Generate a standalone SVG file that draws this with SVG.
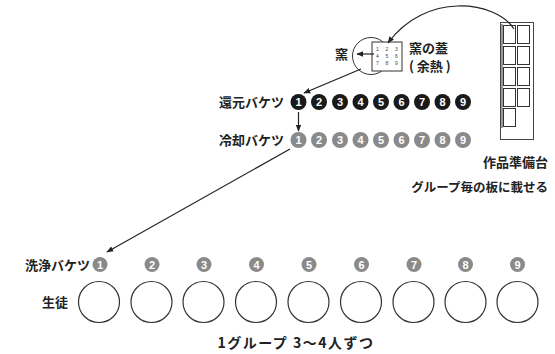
<svg xmlns="http://www.w3.org/2000/svg" width="555" height="354" viewBox="0 0 555 354">
<defs>
<marker id="ah" viewBox="0 0 10 10" refX="9" refY="5" markerWidth="7" markerHeight="7" orient="auto" markerUnits="userSpaceOnUse">
<path d="M0,1 L10,5 L0,9 Z" fill="#222"/>
</marker>
<style>
.lbl{font-family:"Noto Sans CJK JP","Noto Sans",sans-serif;font-weight:bold;font-size:13px;fill:#222}
.num{font-family:"Liberation Sans",Arial,sans-serif;font-weight:bold;font-size:11px;fill:#fff;text-anchor:middle}
.tiny{font-family:"Liberation Sans",Arial,sans-serif;font-size:5px;fill:#444;text-anchor:middle}
.blk{fill:#1a1a1a}
.gry{fill:#8a8a8a}
.stu{fill:#fff;stroke:#333;stroke-width:1.2}
.con{fill:none;stroke:#222;stroke-width:1.2}
.sq{fill:#fff;stroke:#333;stroke-width:1}
</style>
</defs>
<rect width="555" height="354" fill="#fff"/>

<g id="kiln">
<circle cx="371" cy="56" r="18.5" fill="#fff" stroke="#333" stroke-width="1"/>
<text class="lbl" x="335" y="59">窯</text>
</g>
<g id="lid">
<rect x="372" y="42" width="30" height="29" fill="#fff" stroke="#333" stroke-width="1"/>
<text class="tiny" x="377.5" y="51">1</text><text class="tiny" x="387" y="51">2</text><text class="tiny" x="396.5" y="51">3</text>
<text class="tiny" x="377.5" y="58">4</text><text class="tiny" x="387" y="58">5</text><text class="tiny" x="396.5" y="58">6</text>
<text class="tiny" x="377.5" y="65">7</text><text class="tiny" x="387" y="65">8</text><text class="tiny" x="396.5" y="65">9</text>
<text class="lbl" x="409" y="53">窯の蓋</text>
<text class="lbl" x="409" y="71">( 余熱 )</text>
</g>
<g id="board">
<rect x="500.5" y="22.5" width="33" height="117" fill="#fff" stroke="#444" stroke-width="1"/>
<line x1="502" y1="24" x2="502" y2="128" stroke="#999" stroke-width="2"/>
<rect class="sq" x="503.5" y="25.5" width="12" height="18"/><rect class="sq" x="517.5" y="25.5" width="12" height="18"/>
<rect class="sq" x="503.5" y="46.5" width="12" height="18"/><rect class="sq" x="517.5" y="46.5" width="12" height="18"/>
<rect class="sq" x="503.5" y="67.5" width="12" height="18"/><rect class="sq" x="517.5" y="67.5" width="12" height="18"/>
<rect class="sq" x="503.5" y="88.5" width="12" height="18"/><rect class="sq" x="517.5" y="88.5" width="12" height="18"/>
<rect class="sq" x="503.5" y="108.5" width="12" height="18"/>
<text class="lbl" x="548" y="167" text-anchor="end">作品準備台</text>
<text class="lbl" x="548" y="192" text-anchor="end" style="font-size:12.5px">グループ毎の板に載せる</text>
</g>

<g id="reduction">
<text class="lbl" x="284" y="107" text-anchor="end">還元バケツ</text>
<g class="blk">
<circle cx="298.5" cy="102" r="8"/><circle cx="319" cy="102" r="8"/><circle cx="340" cy="102" r="8"/>
<circle cx="360.5" cy="102" r="8"/><circle cx="381" cy="102" r="8"/><circle cx="401.5" cy="102" r="8"/>
<circle cx="422" cy="102" r="8"/><circle cx="442.5" cy="102" r="8"/><circle cx="463" cy="102" r="8"/>
</g>
<text class="num" x="298.5" y="106">1</text><text class="num" x="319" y="106">2</text><text class="num" x="340" y="106">3</text>
<text class="num" x="360.5" y="106">4</text><text class="num" x="381" y="106">5</text><text class="num" x="401.5" y="106">6</text>
<text class="num" x="422" y="106">7</text><text class="num" x="442.5" y="106">8</text><text class="num" x="463" y="106">9</text>
</g>

<g id="cooling">
<text class="lbl" x="284" y="145" text-anchor="end">冷却バケツ</text>
<g class="gry">
<circle cx="298.5" cy="140" r="8"/><circle cx="319" cy="140" r="8"/><circle cx="340" cy="140" r="8"/>
<circle cx="360.5" cy="140" r="8"/><circle cx="381" cy="140" r="8"/><circle cx="401.5" cy="140" r="8"/>
<circle cx="422" cy="140" r="8"/><circle cx="442.5" cy="140" r="8"/><circle cx="463" cy="140" r="8"/>
</g>
<text class="num" x="298.5" y="144">1</text><text class="num" x="319" y="144">2</text><text class="num" x="340" y="144">3</text>
<text class="num" x="360.5" y="144">4</text><text class="num" x="381" y="144">5</text><text class="num" x="401.5" y="144">6</text>
<text class="num" x="422" y="144">7</text><text class="num" x="442.5" y="144">8</text><text class="num" x="463" y="144">9</text>
</g>

<g id="washing">
<text class="lbl" x="90" y="270" text-anchor="end">洗浄バケツ</text>
<g class="gry">
<circle cx="100" cy="264.5" r="7.5"/><circle cx="152" cy="264.5" r="7.5"/><circle cx="204" cy="264.5" r="7.5"/>
<circle cx="256.5" cy="264.5" r="7.5"/><circle cx="309" cy="264.5" r="7.5"/><circle cx="361.5" cy="264.5" r="7.5"/>
<circle cx="414" cy="264.5" r="7.5"/><circle cx="465.5" cy="264.5" r="7.5"/><circle cx="517.5" cy="264.5" r="7.5"/>
</g>
<text class="num" x="100" y="268.5">1</text><text class="num" x="152" y="268.5">2</text><text class="num" x="204" y="268.5">3</text>
<text class="num" x="256.5" y="268.5">4</text><text class="num" x="309" y="268.5">5</text><text class="num" x="361.5" y="268.5">6</text>
<text class="num" x="414" y="268.5">7</text><text class="num" x="465.5" y="268.5">8</text><text class="num" x="517.5" y="268.5">9</text>
</g>

<g id="students">
<text class="lbl" x="68" y="307" text-anchor="end">生徒</text>
<circle class="stu" cx="99" cy="302" r="20.5"/><circle class="stu" cx="151.5" cy="302" r="20.5"/><circle class="stu" cx="203.5" cy="302" r="20.5"/>
<circle class="stu" cx="256" cy="302" r="20.5"/><circle class="stu" cx="308.5" cy="302" r="20.5"/><circle class="stu" cx="361" cy="302" r="20.5"/>
<circle class="stu" cx="413.5" cy="302" r="20.5"/><circle class="stu" cx="465.5" cy="302" r="20.5"/><circle class="stu" cx="517.5" cy="302" r="20.5"/>
<text class="lbl" x="296" y="348" text-anchor="middle" style="font-size:14px;letter-spacing:1.5px">1グループ 3〜4人ずつ</text>
</g>

<g id="connectors">
<path class="con" d="M514 29 C495 0, 425 -8, 388 43" marker-end="url(#ah)"/>
<line class="con" x1="374" y1="54" x2="357" y2="54" marker-end="url(#ah)"/>
<line class="con" x1="361" y1="69" x2="304" y2="93" marker-end="url(#ah)"/>
<line class="con" x1="298.5" y1="112" x2="298.5" y2="131" marker-end="url(#ah)"/>
<line class="con" x1="290" y1="149" x2="107" y2="252" marker-end="url(#ah)"/>
</g>
</svg>
